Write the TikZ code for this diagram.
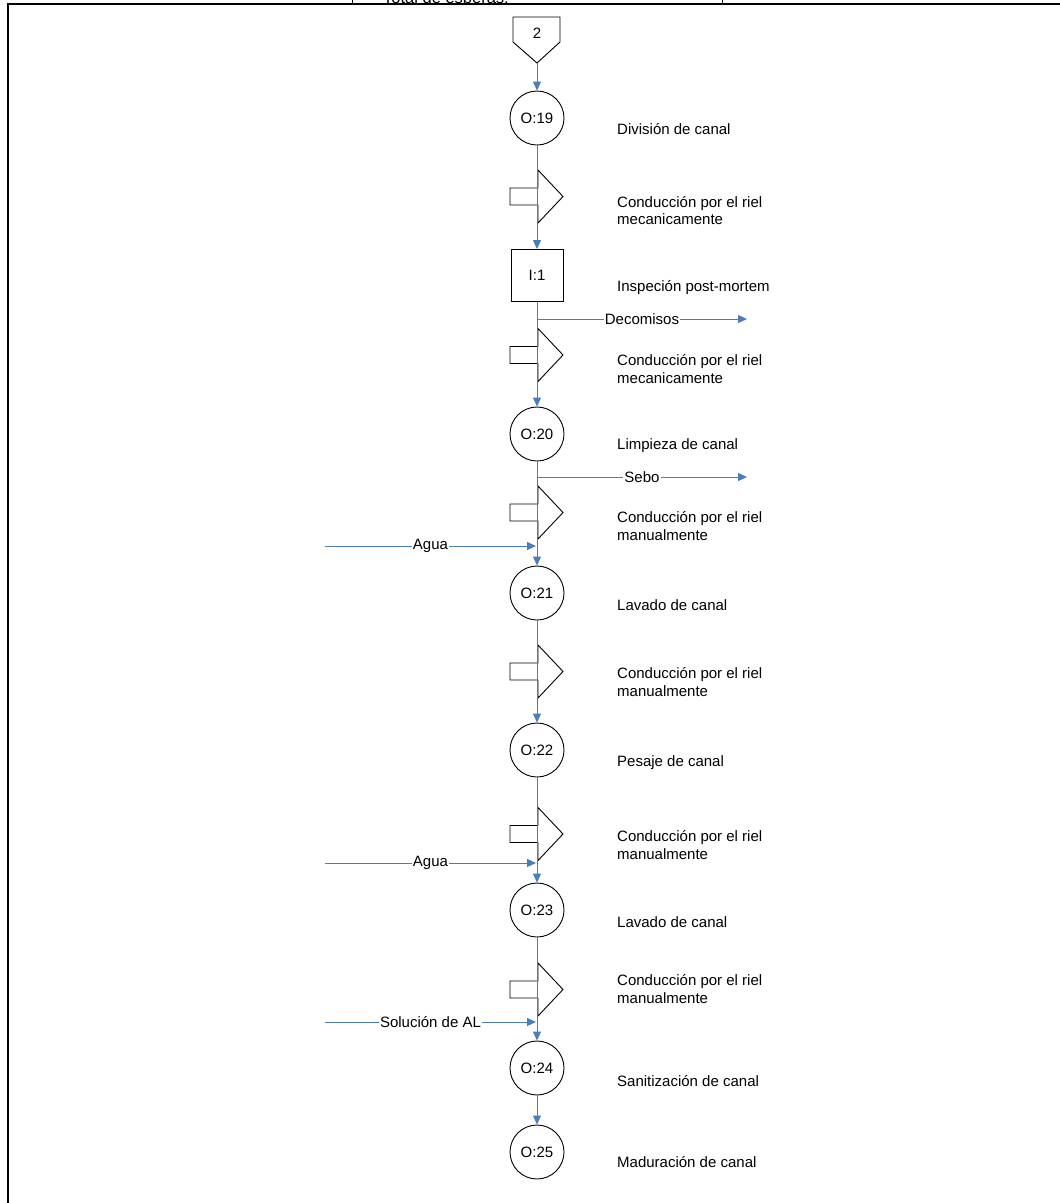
\documentclass[tikz,border=0pt]{standalone}
\usepackage{fontspec}
\setmainfont{Liberation Sans}
\usetikzlibrary{arrows.meta, positioning, calc}
\definecolor{flowblue}{RGB}{74,126,187}
\tikzset{
  oper/.style={circle, draw=black, fill=white, minimum size=54pt, inner sep=0pt, line width=0.9pt},
  insp/.style={rectangle, draw=black, fill=white, minimum size=52pt, inner sep=0pt, line width=0.9pt},
  desc/.style={anchor=west, align=left, inner sep=0pt},
  flow/.style={-{Triangle[length=9pt, width=8pt]}, line width=0.9pt, color=flowblue},
  tag/.style={fill=white, inner sep=1pt, text=black},
  transport/.pic={\draw[line width=0.9pt, fill=white] (-27,-8.5) -- (1,-8.5) -- (1,-26.5) -- (26,0) -- (1,26.5) -- (1,8.5) -- (-27,8.5) -- cycle;}
}

\begin{document}
\begin{tikzpicture}[x=1pt, y=-1pt, font=\fontsize{15}{17.5}\selectfont]
  \useasboundingbox (0,0) rectangle (1060,1203);
  % Frame
  \begin{scope}
    \clip (0,0) rectangle (1060,4);
    \node[anchor=base west, inner sep=0pt, font=\fontsize{16.5}{19}\selectfont] (esp) at (383,3) {Total de esperas:};
  \end{scope}
  \draw[line width=1.1pt] (8,1203) -- (8,4) -- (1060,4);
  \draw[line width=0.8pt] (352,0) -- (352,4) (722,0) -- (722,4);

  % Connector
  \draw[line width=0.9pt, fill=white] (513,17) -- (560,17) -- (560,42) -- (537,63) -- (513,42) -- cycle;
  \node (c2) at (537,33) {2};
  \coordinate (c2tip) at (537,63);

  % Transport symbols
  \foreach \n/\y in {t1/196.5, t2/355, t3/512.5, t4/671.5, t5/834, t6/989.5}
    \pic (\n) at (537,\y) {transport};

  % Steps
  \node[oper] (o19) at (537,118) {O:19};
  \node[insp] (i1) at (537,275.5) {I:1};
  \node[oper] (o20) at (537,434) {O:20};
  \node[oper] (o21) at (537,593) {O:21};
  \node[oper] (o22) at (537,750) {O:22};
  \node[oper] (o23) at (537,910) {O:23};
  \node[oper] (o24) at (537,1068) {O:24};
  \node[oper] (o25) at (537,1152) {O:25};

  % Descriptions
  \node[desc] (d19) at (617,129) {División de canal};
  \node[desc] (dt1) at (617,210.5) {Conducción por el riel\\mecanicamente};
  \node[desc] (di1) at (617,288) {Inspeción post-mortem};
  \node[desc] (dt2) at (617,369) {Conducción por el riel\\mecanicamente};
  \node[desc] (d20) at (617,446) {Limpieza de canal};
  \node[desc] (dt3) at (617,526) {Conducción por el riel\\manualmente};
  \node[desc] (d21) at (617,605) {Lavado de canal};
  \node[desc] (dt4) at (617,682) {Conducción por el riel\\manualmente};
  \node[desc] (d22) at (617,763) {Pesaje de canal};
  \node[desc] (dt5) at (617,845) {Conducción por el riel\\manualmente};
  \node[desc] (d23) at (617,922) {Lavado de canal};
  \node[desc] (dt6) at (617,989) {Conducción por el riel\\manualmente};
  \node[desc] (d24) at (617,1081) {Sanitización de canal};
  \node[desc] (d25) at (617,1162) {Maduración de canal};

  % Main flow
  \draw[flow] (c2tip) -- (o19);
  \draw[flow] (o19) -- (i1);
  \draw[flow] (i1) -- (o20);
  \draw[flow] (o20) -- (o21);
  \draw[flow] (o21) -- (o22);
  \draw[flow] (o22) -- (o23);
  \draw[flow] (o23) -- (o24);
  \draw[flow] (o24) -- (o25);

  % Outputs
  \coordinate (decA) at (537,319);
  \coordinate (decB) at (747,319);
  \draw[flow] (decA) -- (decB) node[midway, tag] {Decomisos};
  \coordinate (seboA) at (537,477);
  \coordinate (seboB) at (747,477);
  \draw[flow] (seboA) -- (seboB) node[midway, tag] {Sebo};

  % Inputs
  \coordinate (ag1A) at (325,546);
  \coordinate (ag1B) at (536,546);
  \draw[flow] (ag1A) -- (ag1B) node[midway, tag] {Agua};
  \coordinate (ag2A) at (325,863);
  \coordinate (ag2B) at (536,863);
  \draw[flow] (ag2A) -- (ag2B) node[midway, tag] {Agua};
  \coordinate (solA) at (325,1022);
  \coordinate (solB) at (536,1022);
  \draw[flow] (solA) -- (solB) node[midway, tag] {Solución de AL};
\end{tikzpicture}
\end{document}
